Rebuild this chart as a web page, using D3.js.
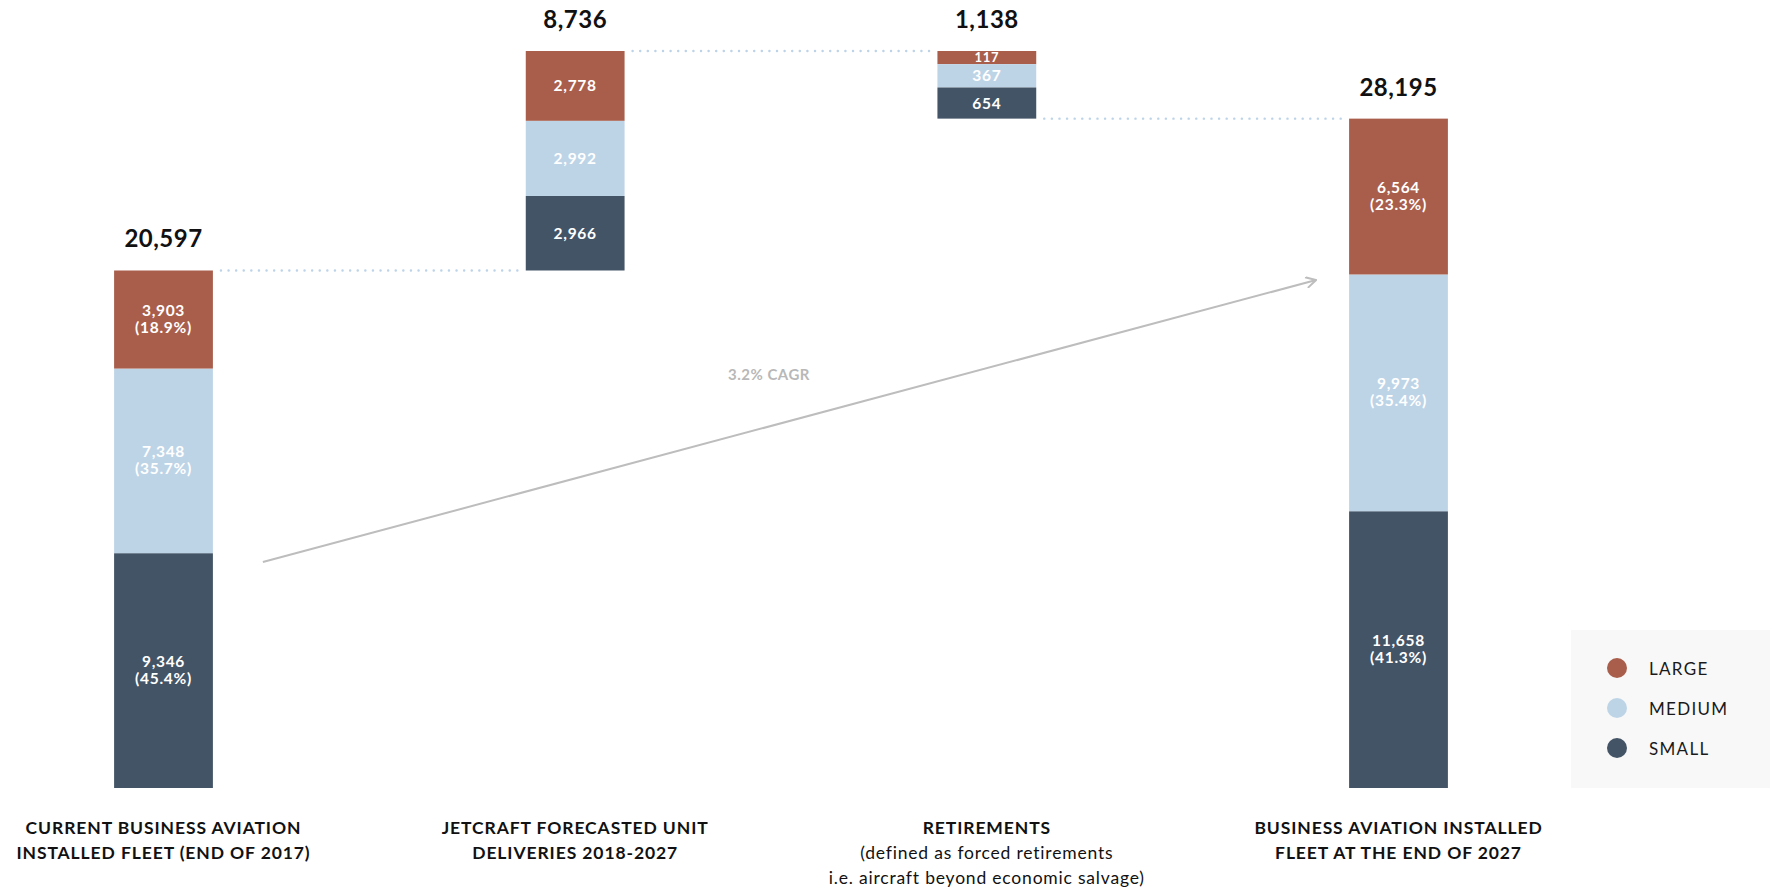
<!DOCTYPE html>
<html>
<head>
<meta charset="utf-8">
<script src="https://cdn.jsdelivr.net/npm/d3@7"></script>
<style>
  html, body { margin: 0; padding: 0; background: #ffffff; }
  svg { display: block; font-family: "Lato", "Open Sans", sans-serif; }
</style>
</head>
<body>
<svg id="chart" width="1780" height="888"></svg>
<script>
// Fleet size classes, top of each stack first
const sizes = ["LARGE", "MEDIUM", "SMALL"];

// Units per size class (LARGE, MEDIUM, SMALL)
const fleet2017   = [3903, 7348, 9346];
const deliveries  = [2778, 2992, 2966];
const retirements = [117, 367, 654];
const fleet2027   = [6564, 9973, 11658];

// Column totals printed above each stack
const totals = [20597, 8736, 1138, 28195];

// Column captions: bold title lines, then regular note lines
const columnKeys = ["fleet2017", "deliveries", "retirements", "fleet2027"];
const columnTitles = [
  ["CURRENT BUSINESS AVIATION", "INSTALLED FLEET (END OF 2017)"],
  ["JETCRAFT FORECASTED UNIT", "DELIVERIES 2018-2027"],
  ["RETIREMENTS"],
  ["BUSINESS AVIATION INSTALLED", "FLEET AT THE END OF 2027"]
];
const columnNotes = [
  [],
  [],
  ["(defined as forced retirements", "i.e. aircraft beyond economic salvage)"],
  []
];
const growthLabel = "3.2% CAGR";

const colors = { LARGE: "#a95e4b", MEDIUM: "#bdd4e7", SMALL: "#435467" };

const baseY = 788, topY = 51;
const svg = d3.select("#chart");

// Horizontal placement of the four stacks
const x = d3.scalePoint().domain(columnKeys).range([163.5, 1398.5]);
const barW = x.step() * 0.24;

// Waterfall: the 2017 fleet plus deliveries on one linear scale
const sum2017 = d3.sum(fleet2017);
const sumDeliv = d3.sum(deliveries);
const peak = sum2017 + sumDeliv;
const y = d3.scaleLinear().domain([0, peak]).range([baseY, topY]);

// Retirements are small; their segments are magnified with a square-root scale
const retH = d3.scaleSqrt().domain([0, 1000]).range([0, 38.5]);
const retTop = y(peak);
const retBottom = retTop + d3.sum(retirements, retH);

// 2027 fleet stands from the baseline up to where retirements end
const sum2027 = d3.sum(fleet2027);
const y4 = d3.scaleLinear().domain([0, sum2027]).range([baseY, retBottom]);

// Segment geometry for a column (stack bottom-up: SMALL, MEDIUM, LARGE)
function stackLinear(values, scale, offset) {
  const segs = [];
  let acc = offset;
  for (let i = values.length - 1; i >= 0; i--) {
    const v = values[i];
    segs.push({ size: sizes[i], value: v, y0: scale(acc + v), y1: scale(acc) });
    acc += v;
  }
  return segs;
}
function stackRetirements(values) {
  const segs = [];
  let top = retTop;
  values.forEach((v, i) => {
    const h = retH(v);
    segs.push({ size: sizes[i], value: v, y0: top, y1: top + h });
    top += h;
  });
  return segs;
}

const columns = [
  { key: "fleet2017",   segs: stackLinear(fleet2017, y, 0),        total: totals[0], pct: true },
  { key: "deliveries",  segs: stackLinear(deliveries, y, sum2017), total: totals[1], pct: false },
  { key: "retirements", segs: stackRetirements(retirements),       total: totals[2], pct: false },
  { key: "fleet2027",   segs: stackLinear(fleet2027, y4, 0),       total: totals[3], pct: true }
];

const fmt = d3.format(",");
const pctFmt = d3.format(".1%");

// Dotted connectors between consecutive stacks
const connectorGap = 8;
const connectors = [
  { from: 0, to: 1, yv: columns[0].segs[2].y0 },
  { from: 1, to: 2, yv: columns[1].segs[2].y0 },
  { from: 2, to: 3, yv: retBottom }
];
svg.append("g").selectAll("line").data(connectors).join("line")
  .attr("x1", d => x(columnKeys[d.from]) + barW / 2 + connectorGap)
  .attr("x2", d => x(columnKeys[d.to]) - barW / 2 - connectorGap)
  .attr("y1", d => d.yv)
  .attr("y2", d => d.yv)
  .attr("stroke", "#bcd3e8")
  .attr("stroke-width", 2.4)
  .attr("stroke-linecap", "round")
  .attr("stroke-dasharray", "0.1 7.5");

// Bars and their value labels
const colG = svg.append("g").selectAll("g").data(columns).join("g")
  .attr("transform", d => `translate(${x(d.key) - barW / 2},0)`);

colG.selectAll("rect").data(d => d.segs).join("rect")
  .attr("x", 0)
  .attr("width", barW)
  .attr("y", d => d.y0)
  .attr("height", d => d.y1 - d.y0)
  .attr("fill", d => colors[d.size]);

colG.each(function(col) {
  const g = d3.select(this);
  col.segs.forEach(s => {
    const cy = (s.y0 + s.y1) / 2;
    const h = s.y1 - s.y0;
    if (col.pct) {
      const t = g.append("text")
        .attr("x", barW / 2)
        .attr("text-anchor", "middle")
        .attr("fill", "#ffffff")
        .attr("font-size", 15.5)
        .attr("font-weight", 700)
        .attr("letter-spacing", 0.7);
      t.append("tspan").attr("x", barW / 2).attr("y", cy - 4).text(fmt(s.value));
      t.append("tspan").attr("x", barW / 2).attr("y", cy + 13.5).text(`(${pctFmt(s.value / col.total)})`);
    } else {
      const fs = h < 18 ? 13 : 15.5;
      g.append("text")
        .attr("x", barW / 2)
        .attr("y", cy + fs * 0.36)
        .attr("text-anchor", "middle")
        .attr("fill", "#ffffff")
        .attr("font-size", fs)
        .attr("font-weight", 700)
        .attr("letter-spacing", 0.7)
        .text(fmt(s.value));
    }
  });
  // Total above the stack
  g.append("text")
    .attr("x", barW / 2)
    .attr("y", col.segs[col.key === "retirements" ? 0 : col.segs.length - 1].y0 - 23)
    .attr("text-anchor", "middle")
    .attr("fill", "#111111")
    .attr("font-size", 24)
    .attr("font-weight", 700)
    .attr("letter-spacing", 0.5)
    .text(fmt(col.total));
});

// Column captions under the baseline
const capG = svg.append("g").selectAll("text").data(columnKeys).join("text")
  .attr("text-anchor", "middle")
  .attr("fill", "#111111")
  .attr("font-size", 17.5);
capG.each(function(k, i) {
  const t = d3.select(this);
  const lines = columnTitles[i].map(s => ({ s, bold: true }))
    .concat(columnNotes[i].map(s => ({ s, bold: false })));
  lines.forEach((ln, j) => {
    t.append("tspan")
      .attr("x", x(k))
      .attr("y", 834 + j * 25)
      .attr("font-weight", ln.bold ? 700 : 400)
      .attr("letter-spacing", ln.bold ? 0.9 : 0.8)
      .text(ln.s);
  });
});

// Growth arrow from the 2017 stack toward the 2027 stack
const arrowStart = [x("fleet2017") + barW / 2 + 50, 562];
const arrowEnd = [x("fleet2027") - barW / 2 - 33, 280];
svg.append("defs").append("marker")
  .attr("id", "chev")
  .attr("viewBox", "0 0 12 12")
  .attr("refX", 11)
  .attr("refY", 6)
  .attr("markerWidth", 12)
  .attr("markerHeight", 12)
  .attr("markerUnits", "userSpaceOnUse")
  .attr("orient", "auto")
  .append("path")
  .attr("d", "M1,0.5 L11,6 L1,11.5")
  .attr("fill", "none")
  .attr("stroke", "#bdbdbd")
  .attr("stroke-width", 2);
svg.append("line")
  .attr("x1", arrowStart[0]).attr("y1", arrowStart[1])
  .attr("x2", arrowEnd[0]).attr("y2", arrowEnd[1])
  .attr("stroke", "#bdbdbd")
  .attr("stroke-width", 2)
  .attr("marker-end", "url(#chev)");
svg.append("text")
  .attr("x", 769)
  .attr("y", 380)
  .attr("text-anchor", "middle")
  .attr("fill", "#b8b8b8")
  .attr("font-size", 15)
  .attr("font-weight", 700)
  .attr("letter-spacing", 0.5)
  .text(growthLabel);

// Legend
const legend = svg.append("g").attr("transform", "translate(1571,630)");
legend.append("rect").attr("width", 199).attr("height", 158).attr("fill", "#f8f8f8");
const li = legend.selectAll("g").data(sizes).join("g")
  .attr("transform", (d, i) => `translate(0,${38 + i * 40})`);
li.append("circle").attr("cx", 46).attr("cy", 0).attr("r", 10).attr("fill", d => colors[d]);
li.append("text").attr("x", 78).attr("y", 6.5)
  .attr("font-size", 17)
  .attr("fill", "#1a1a1a")
  .attr("letter-spacing", 1.3)
  .text(d => d);
</script>
</body>
</html>
